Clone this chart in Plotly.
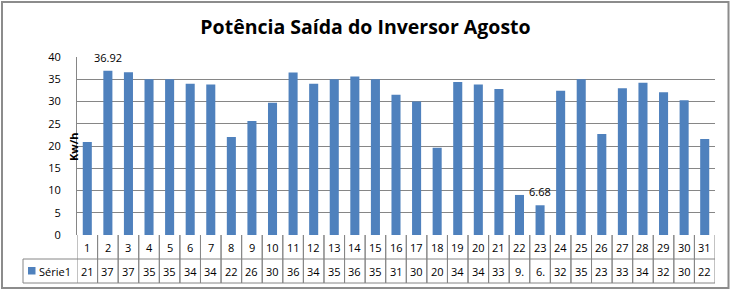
import plotly.graph_objects as go

# ---------------- data ----------------
days = list(range(1, 32))
values = [20.9, 36.92, 36.6, 35.0, 35.0, 34.0, 33.8, 22.0, 25.6, 29.7,
          36.5, 34.0, 35.0, 35.6, 35.0, 31.5, 30.0, 19.6, 34.4, 33.8,
          32.8, 9.0, 6.68, 32.4, 35.0, 22.7, 33.0, 34.2, 32.1, 30.3, 21.6]
table_labels = ["21", "37", "37", "35", "35", "34", "34", "22", "26", "30",
                "36", "34", "35", "36", "35", "31", "30", "20", "34", "34",
                "33", "9.", "6.", "32", "35", "23", "33", "34", "32", "30", "22"]
labeled_days = [2, 23]
y_ticks = [0, 5, 10, 15, 20, 25, 30, 35, 40]
series_name = "Série1"
chart_title = "Potência Saída do Inversor Agosto"
axis_title = "Kw/h"

# ---------------- styling / geometry ----------------
W, H = 731, 291
BAR = "#4F81BD"
GRID = "#868686"
FONT = "Open Sans"
PX_L, PX_R, PX_T, PX_B = 77, 715, 57, 235   # plot area in pixels
ROW1_B, ROW2_B = 259, 283                     # table row bottoms
LEG_L = 23


def px(xp):
    return xp / W


def py(yp):
    return (H - yp) / H


fig = go.Figure(go.Bar(
    x=days, y=values, name=series_name,
    marker=dict(color=BAR, line=dict(width=0)),
))

shapes = []
annotations = []

# data labels
for d, v in zip(days, values):
    if d in labeled_days:
        annotations.append(dict(x=d, y=v, xref="x", yref="y", text=f"{v:g}",
                                showarrow=False, yanchor="bottom", yshift=4,
                                font=dict(family=FONT, size=11, color="#000000")))

# data table: vertical cell borders
for d in days:
    for xb in (d - 0.5, d + 0.5):
        shapes.append(dict(type="line", xref="x", yref="paper",
                           x0=xb, x1=xb, y0=py(PX_B), y1=py(ROW2_B),
                           line=dict(color=GRID, width=1)))
# horizontal lines
shapes.append(dict(type="line", xref="paper", yref="paper",
                   x0=px(LEG_L), x1=px(PX_R), y0=py(ROW1_B), y1=py(ROW1_B),
                   line=dict(color=GRID, width=1)))
shapes.append(dict(type="line", xref="paper", yref="paper",
                   x0=px(LEG_L), x1=px(PX_R), y0=py(ROW2_B), y1=py(ROW2_B),
                   line=dict(color=GRID, width=1)))
# legend cell left border
shapes.append(dict(type="line", xref="paper", yref="paper",
                   x0=px(LEG_L), x1=px(LEG_L), y0=py(ROW1_B), y1=py(ROW2_B),
                   line=dict(color=GRID, width=1)))
# legend key
shapes.append(dict(type="rect", xref="paper", yref="paper",
                   x0=px(28), x1=px(35.5), y0=py(274.5), y1=py(267),
                   fillcolor=BAR, line=dict(width=0)))
# outer chart border
shapes.append(dict(type="rect", xref="paper", yref="paper",
                   x0=px(2), x1=px(728.5), y0=py(288), y1=py(2),
                   line=dict(color="#8C8C8C", width=2), fillcolor="rgba(0,0,0,0)"))

# table texts
for d, lab in zip(days, table_labels):
    annotations.append(dict(x=d, y=py((PX_B + ROW1_B) / 2), xref="x", yref="paper",
                            text=str(d), showarrow=False, yanchor="middle",
                            font=dict(family=FONT, size=11, color="#000000")))
    annotations.append(dict(x=d, y=py((ROW1_B + ROW2_B) / 2), xref="x", yref="paper",
                            text=lab, showarrow=False, yanchor="middle",
                            font=dict(family=FONT, size=11, color="#000000")))
annotations.append(dict(x=px(37), y=py((ROW1_B + ROW2_B) / 2), xref="paper", yref="paper",
                        text=series_name, showarrow=False, xanchor="left", yanchor="middle",
                        font=dict(family=FONT, size=11, color="#000000")))
# axis title
annotations.append(dict(x=px(73), y=py(147), xref="paper", yref="paper",
                        text=f"<b>{axis_title}</b>", showarrow=False, textangle=-90,
                        xanchor="center", yanchor="middle",
                        font=dict(family=FONT, size=11, color="#000000")))

fig.update_layout(
    template="none",
    width=W, height=H, autosize=False,
    margin=dict(l=0, r=0, t=0, b=0, pad=0, autoexpand=False),
    paper_bgcolor="white", plot_bgcolor="white",
    showlegend=False,
    bargap=0.56,
    title=dict(text=f"<b>{chart_title}</b>", x=0.5, xanchor="center",
               y=py(27), yanchor="middle", yref="paper", automargin=False,
               font=dict(family=FONT, size=19.5, color="#000000")),
    xaxis=dict(domain=[px(PX_L), px(PX_R)], range=[0.5, 31.5], automargin=False,
               showticklabels=False, showgrid=False, zeroline=False, showline=False,
               ticks="", fixedrange=True),
    yaxis=dict(domain=[py(PX_B), py(PX_T)], range=[0, 40], automargin=False,
               tickvals=y_ticks, showgrid=True, gridcolor=GRID, gridwidth=1,
               zeroline=False, showline=True, linecolor=GRID, linewidth=1,
               ticks="", ticklabelstandoff=13,
               tickfont=dict(family=FONT, size=11, color="#000000")),
    shapes=shapes, annotations=annotations,
)

post = (
    "document.documentElement.style.margin='0';"
    "document.body.style.margin='0';document.body.style.padding='0';"
    "document.body.style.overflow='hidden';"
    "var gd=document.getElementById('{plot_id}');"
    "Plotly.relayout(gd,{width:731,height:291});"
)

fig.write_html("out.html", post_script=post)
